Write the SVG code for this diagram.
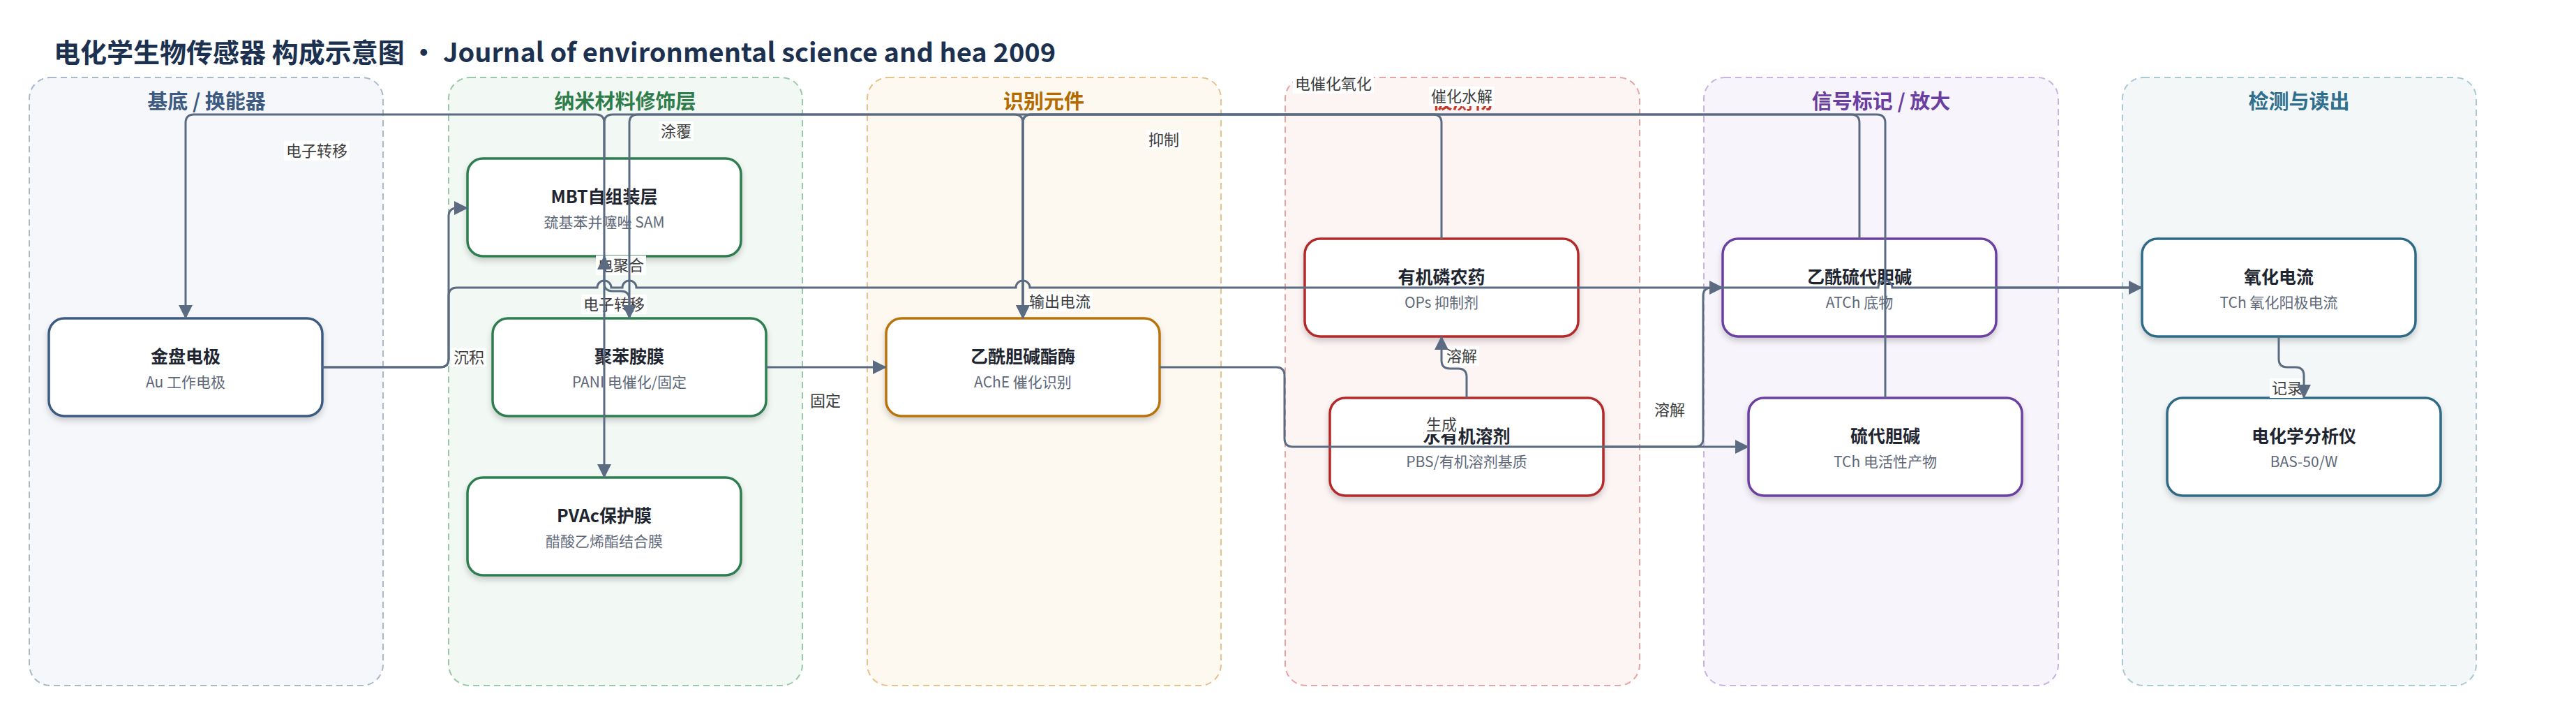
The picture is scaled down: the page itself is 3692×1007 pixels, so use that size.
<svg xmlns="http://www.w3.org/2000/svg" width="3692" height="1007" viewBox="0 0 3692 1007">
<defs>
<style>
.grp{stroke-width:2;stroke-dasharray:9 6}
.gl{font-family:"Noto Sans CJK SC","Noto Sans",sans-serif;font-size:29px;font-weight:700;text-anchor:middle}
.box{fill:#fff;stroke-width:3.5;filter:url(#sh)}
.t{font-family:"Noto Sans CJK SC","Noto Sans",sans-serif;font-size:25px;font-weight:700;fill:#1E2530;text-anchor:middle}
.s{font-family:"Noto Sans CJK SC","Noto Sans",sans-serif;font-size:21px;fill:#5E6878;text-anchor:middle}
.e{fill:none;stroke:#5B6B82;stroke-width:3}
.ea{marker-end:url(#arr)}
.lb{fill:#fff}
.lt{font-family:"Noto Sans CJK SC","Noto Sans",sans-serif;font-size:22px;fill:#3D3D3D;text-anchor:middle}
</style>
<filter id="sh" x="-10%" y="-20%" width="120%" height="150%">
<feDropShadow dx="0" dy="5" stdDeviation="4" flood-color="#000" flood-opacity="0.18"/>
</filter>
<marker id="arr" markerUnits="userSpaceOnUse" markerWidth="22" markerHeight="22" refX="19" refY="10" orient="auto">
<path d="M0,0 L20,10 L0,20 Z" fill="#5B6B82"/>
</marker>
</defs>
<rect width="3692" height="1007" fill="#fff"/>
<text x="77" y="89" font-family="'Noto Sans CJK SC','Noto Sans',sans-serif" font-size="38" font-weight="700" fill="#1C3150">电化学生物传感器 构成示意图 · Journal of environmental science and hea 2009</text>

<g id="groups">
<g id="g-substrate"><rect class="grp" x="42" y="111" width="507" height="871" rx="30" fill="#F5F7FB" stroke="#AAB8CC"/><text class="gl" x="296" y="156" fill="#3D5A80">基底 / 换能器</text></g>
<g id="g-nano"><rect class="grp" x="643" y="111" width="507" height="871" rx="30" fill="#F2F8F4" stroke="#99C9A8"/><text class="gl" x="896" y="156" fill="#2E7D4A">纳米材料修饰层</text></g>
<g id="g-recog"><rect class="grp" x="1243" y="111" width="507" height="871" rx="30" fill="#FDF8F0" stroke="#E6C28C"/><text class="gl" x="1496" y="156" fill="#B36B00">识别元件</text></g>
<g id="g-analyte"><rect class="grp" x="1842" y="111" width="508" height="871" rx="30" fill="#FDF4F4" stroke="#E8A3A3"/><text class="gl" x="2096" y="156" fill="#C0392B">被测物</text></g>
<g id="g-signal"><rect class="grp" x="2442" y="111" width="508" height="871" rx="30" fill="#F7F4FB" stroke="#C8B3E0"/><text class="gl" x="2696" y="156" fill="#6B3FA0">信号标记 / 放大</text></g>
<g id="g-detect"><rect class="grp" x="3042" y="111" width="507" height="871" rx="30" fill="#F3F7F8" stroke="#A9C9D4"/><text class="gl" x="3295" y="156" fill="#2E6F8E">检测与读出</text></g>
</g>

<g id="n-au"><rect class="box" x="70" y="456" width="392" height="140" rx="22" stroke="#3D5A80"/><text class="t" x="266" y="520">金盘电极</text><text class="s" x="266" y="555">Au 工作电极</text></g>
<g id="n-mbt"><rect class="box" x="670" y="227" width="392" height="140" rx="22" stroke="#2E7D4F"/><text class="t" x="866" y="291">MBT自组装层</text><text class="s" x="866" y="326">巯基苯并噻唑 SAM</text></g>
<g id="n-pani"><rect class="box" x="706" y="456" width="392" height="140" rx="22" stroke="#2E7D4F"/><text class="t" x="902" y="520">聚苯胺膜</text><text class="s" x="902" y="555">PANI 电催化/固定</text></g>
<g id="n-pvac"><rect class="box" x="670" y="684" width="392" height="140" rx="22" stroke="#2E7D4F"/><text class="t" x="866" y="748">PVAc保护膜</text><text class="s" x="866" y="783">醋酸乙烯酯结合膜</text></g>
<g id="n-ache"><rect class="box" x="1270" y="456" width="392" height="140" rx="22" stroke="#B8730A"/><text class="t" x="1466" y="520">乙酰胆碱酯酶</text><text class="s" x="1466" y="555">AChE 催化识别</text></g>
<g id="n-ops"><rect class="box" x="1870" y="342" width="392" height="140" rx="22" stroke="#B22A2A"/><text class="t" x="2066" y="406">有机磷农药</text><text class="s" x="2066" y="441">OPs 抑制剂</text></g>
<g id="n-solv"><rect class="box" x="1906" y="570" width="392" height="140" rx="22" stroke="#B22A2A"/><text class="t" x="2102" y="634">水有机溶剂</text><text class="s" x="2102" y="669">PBS/有机溶剂基质</text></g>
<g id="n-atch"><rect class="box" x="2469" y="342" width="392" height="140" rx="22" stroke="#6A3FA0"/><text class="t" x="2665" y="406">乙酰硫代胆碱</text><text class="s" x="2665" y="441">ATCh 底物</text></g>
<g id="n-tch"><rect class="box" x="2506" y="570" width="392" height="140" rx="22" stroke="#6A3FA0"/><text class="t" x="2702" y="634">硫代胆碱</text><text class="s" x="2702" y="669">TCh 电活性产物</text></g>
<g id="n-cur"><rect class="box" x="3070" y="342" width="392" height="140" rx="22" stroke="#2E6A86"/><text class="t" x="3266" y="406">氧化电流</text><text class="s" x="3266" y="441">TCh 氧化阳极电流</text></g>
<g id="n-bas"><rect class="box" x="3106" y="570" width="392" height="140" rx="22" stroke="#2E6A86"/><text class="t" x="3302" y="634">电化学分析仪</text><text class="s" x="3302" y="669">BAS-50/W</text></g>

<g id="edge-labels">
<rect class="lb" x="647" y="498" width="50" height="28"/><text class="lt" x="672" y="520">沉积</text>
<rect class="lb" x="407" y="202" width="94" height="28"/><text class="lt" x="454" y="224">电子转移</text>
<rect class="lb" x="944" y="174" width="50" height="28"/><text class="lt" x="969" y="196">涂覆</text>
<rect class="lb" x="854" y="366" width="72" height="28"/><text class="lt" x="890" y="388">电聚合</text>
<rect class="lb" x="833" y="422" width="94" height="28"/><text class="lt" x="880" y="444">电子转移</text>
<rect class="lb" x="1158" y="560" width="50" height="28"/><text class="lt" x="1183" y="582">固定</text>
<rect class="lb" x="1643" y="186" width="50" height="28"/><text class="lt" x="1668" y="208">抑制</text>
<rect class="lb" x="1472" y="418" width="94" height="28"/><text class="lt" x="1519" y="440">输出电流</text>
<rect class="lb" x="1853" y="106" width="116" height="28"/><text class="lt" x="1911" y="128">电催化氧化</text>
<rect class="lb" x="2048" y="124" width="94" height="28"/><text class="lt" x="2095" y="146">催化水解</text>
<rect class="lb" x="2070" y="496" width="50" height="28"/><text class="lt" x="2095" y="518">溶解</text>
<rect class="lb" x="2041" y="594" width="50" height="28"/><text class="lt" x="2066" y="616">生成</text>
<rect class="lb" x="2368" y="573" width="50" height="28"/><text class="lt" x="2393" y="595">溶解</text>
<rect class="lb" x="3253" y="542" width="50" height="28"/><text class="lt" x="3278" y="564">记录</text>
</g>

<g id="connectors">
<path id="e-au-mbt" class="e ea" d="M462,526 H631 Q643,526 643,514 V310 Q643,298 655,298 H670"/>
<path id="e-au-cur" class="e ea" d="M462,526 H631 Q643,526 643,514 V424 Q643,412 655,412 H856 A10,10 0 0 1 876,412 H892 A10,10 0 0 1 912,412 H1456 A10,10 0 0 1 1476,412 H2692 A10,10 0 0 1 2712,412 H3070"/>
<path id="e-mbt-au" class="e ea" d="M866,227 V176 Q866,164 854,164 H278 Q266,164 266,176 V456"/>
<path id="e-pani-mbt" class="e ea" d="M902,456 V429 Q902,417 890,417 H878 Q866,417 866,405 V367"/>
<path id="e-ache-pvac" class="e ea" d="M1466,456 V176 Q1466,164 1454,164 H878 Q866,164 866,176 V684"/>
<path id="e-tch-pani" class="e ea" d="M2702,570 V176 Q2702,164 2690,164 H914 Q902,164 902,176 V456"/>
<path id="e-pani-ache" class="e ea" d="M1098,526 H1270"/>
<path id="e-ops-ache" class="e ea" d="M2066,342 V176 Q2066,164 2054,164 H1478 Q1466,164 1466,176 V456"/>
<path id="e-atch-ache" class="e ea" d="M2665,342 V176 Q2665,164 2653,164 H1478 Q1466,164 1466,176 V456"/>
<path id="e-ache-tch" class="e ea" d="M1662,526 H1829 Q1841,526 1841,538 V628 Q1841,640 1853,640 H2506"/>
<path id="e-solv-atch" class="e ea" d="M2298,640 H2429 Q2441,640 2441,628 V424 Q2441,412 2453,412 H2469"/>
<path id="e-solv-ops" class="e ea" d="M2102,570 V540 Q2102,528 2090,528 H2078 Q2066,528 2066,516 V482"/>
<path id="e-atch-cur" class="e" d="M2861,412 H3070"/>
<path id="e-cur-bas" class="e ea" d="M3266,482 V514 Q3266,526 3278,526 H3290 Q3302,526 3302,538 V570"/>
</g>
</svg>
